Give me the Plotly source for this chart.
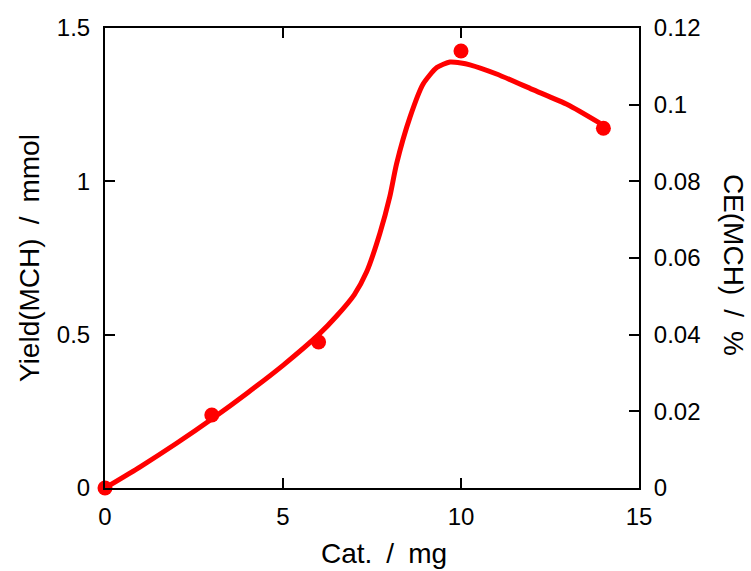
import plotly.graph_objects as go

# measured data points
cat_mg = [0, 3, 6, 10, 14]
yield_mmol = [0, 0.238, 0.476, 1.425, 1.173]

# fitted curve
fit_x = [0, 1, 2, 3, 4, 5, 6, 6.5, 7, 7.35, 7.72, 8.0, 8.19, 8.57, 8.94, 9.32, 9.69, 10.0, 10.25, 11.0, 12.0, 13.0, 13.9]
fit_y = [0, 0.07, 0.145, 0.225, 0.31, 0.40, 0.50, 0.56, 0.63, 0.705, 0.83, 0.95, 1.057, 1.21, 1.318, 1.371, 1.389, 1.386, 1.38, 1.35, 1.30, 1.25, 1.19]

x_ticks = [0, 5, 10, 15]
y_ticks = [0, 0.5, 1, 1.5]
y_tick_text = ["0", "0.5", "1", "1.5"]
y2_ticks = [0, 0.02, 0.04, 0.06, 0.08, 0.1, 0.12]
y2_tick_text = ["0", "0.02", "0.04", "0.06", "0.08", "0.1", "0.12"]

x_title = "Cat.\u2002/\u2002mg"
y_title = "Yield(MCH)\u2002/\u2002mmol"
y2_title = "CE(MCH)\u2002/\u2002%"

RED = "#ff0000"
FONT = "Liberation Sans, Arial, sans-serif"
TICK_SIZE = 24
TITLE_SIZE = 28

fig = go.Figure()
fig.add_trace(go.Scatter(x=fit_x, y=fit_y, mode="lines",
                         line=dict(color=RED, width=5, shape="spline", smoothing=0.6),
                         cliponaxis=False, showlegend=False, hoverinfo="skip"))
fig.add_trace(go.Scatter(x=cat_mg, y=yield_mmol, mode="markers",
                         marker=dict(color=RED, size=15),
                         cliponaxis=False, showlegend=False))
# invisible trace to activate right axis
fig.add_trace(go.Scatter(x=[0], y=[0], yaxis="y2", mode="markers",
                         marker=dict(opacity=0), showlegend=False, hoverinfo="skip"))

axis_common = dict(showline=True, linecolor="black", linewidth=2,
                   ticks="inside", ticklen=10, tickwidth=2, tickcolor="black",
                   showgrid=False, zeroline=False,
                   tickfont=dict(family=FONT, size=TICK_SIZE, color="black"))

title_font = dict(family=FONT, size=TITLE_SIZE, color="black")

fig.update_layout(
    width=751, height=571,
    margin=dict(l=105, r=112, t=28, b=83),
    paper_bgcolor="white", plot_bgcolor="white",
    font=dict(family=FONT, size=TICK_SIZE, color="black"),
    xaxis=dict(range=[0, 15], tickvals=x_ticks, mirror="ticks",
               ticklabelstandoff=6, **axis_common),
    yaxis=dict(range=[0, 1.5], tickvals=y_ticks, ticktext=y_tick_text,
               ticklabelstandoff=8, **axis_common),
    yaxis2=dict(range=[0, 0.12], tickvals=y2_ticks, ticktext=y2_tick_text,
                overlaying="y", side="right", ticklabelstandoff=8, **axis_common),
    annotations=[
        dict(text=x_title, xref="paper", yref="paper", x=0.5, y=0,
             xanchor="center", yanchor="middle", yshift=-65, xshift=12,
             showarrow=False, font=title_font),
        dict(text=y_title, textangle=-90, xref="paper", yref="paper", x=0, y=0.5,
             xanchor="center", yanchor="middle", xshift=-76,
             showarrow=False, font=title_font),
        dict(text=y2_title, textangle=90, xref="paper", yref="paper", x=1, y=0.485,
             xanchor="center", yanchor="middle", xshift=94,
             showarrow=False, font=title_font),
    ],
)

fig.write_html("out.html")
